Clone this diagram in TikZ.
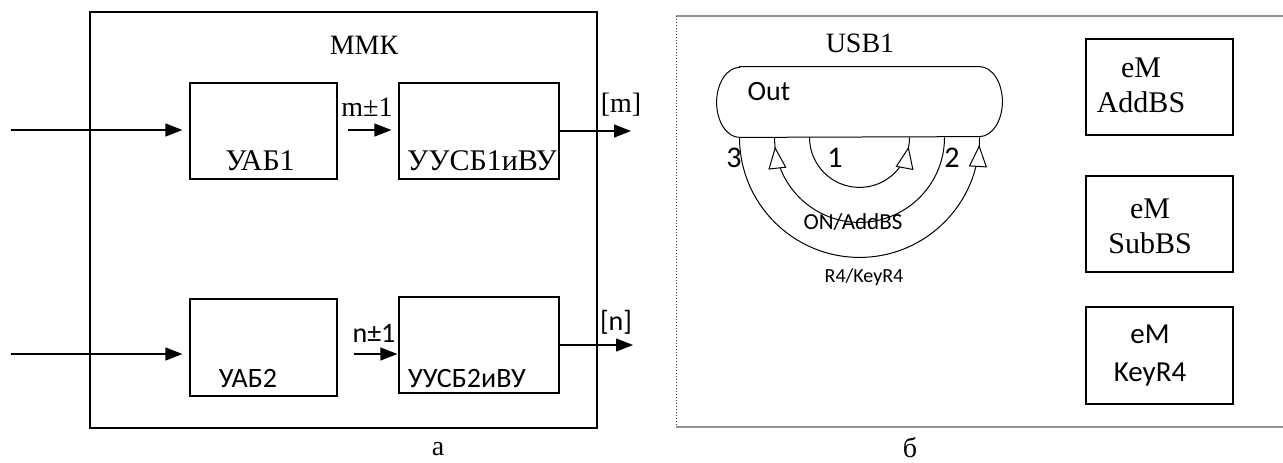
\documentclass[tikz,border=0pt]{standalone}
\usepackage{fontspec}
\setmainfont{Liberation Serif}
\newfontfamily\carl{Carlito}
\usetikzlibrary{arrows.meta,decorations.markings}
\begin{document}
\begin{tikzpicture}[x=0.5pt,y=-0.5pt,
  lw/.style={line width=0.6pt},
  blk/.style={draw, lw, inner sep=0, minimum width=#1},
  ser/.style={font=\fontsize{14}{17}\selectfont, inner sep=0},
  san/.style={font=\carl\fontsize{14}{17}\selectfont, inner sep=0},
  big/.style={font=\fontsize{15}{17}\selectfont},
  arr/.style={lw, -{Triangle[length=8.5pt,width=6.5pt]}},
  arcline/.style={line width=0.5pt, postaction={decorate},
    decoration={markings, mark=at position #1 with {\arrow[line width=0.5pt]{Triangle[open,fill=white,length=11pt,width=9pt]}}}}
]
\useasboundingbox (0,0) rectangle (1283,462);

% ---------- left panel ----------
\node[blk=253.5pt, minimum height=208pt] (mmk) at (343.5,220) {};
\node[ser] (mmkt) at (364,45) {ММК};

\node[blk=73.5pt, minimum height=48pt] (uab1) at (263.5,131) {};
\node[blk=80pt, minimum height=48pt] (uusb1) at (479,131) {};
\node[blk=73.5pt, minimum height=48.5pt] (uab2) at (263.5,347.5) {};
\node[blk=80pt, minimum height=48pt] (uusb2) at (479,345) {};

\node[ser, big] at (260,161) {УАБ1};
\node[ser, big] at (482,161) {УУСБ1иВУ};
\node[san] at (248,378) {УАБ2};
\node[san] at (467,378) {УУСБ2иВУ};

\coordinate (in1) at (10.5,130);
\coordinate (in2) at (10.5,354);
\coordinate (o1) at (631,131);
\coordinate (o2) at (633,345);

\draw[arr, shorten >=3.5pt] (in1) -- (in1 -| uab1.west);
\draw[arr, shorten >=3.5pt] (in2) -- (in2 -| uab2.west);
\draw[arr, shorten <=5pt, shorten >=3.5pt] (uab1.east |- in1) -- (uusb1.west |- in1);
\draw[arr, shorten <=8pt, shorten >=0.5pt] (uab2.east |- in2) -- (uusb2.west |- in2);
\draw[arr] (uusb1.east) -- (o1);
\draw[arr] (uusb2.east) -- (o2);

\node[ser] at (367,107) {m±1};
\node[san] at (374,333) {n±1};
\node[ser] at (621,105) {[m]};
\node[san] at (616,322) {[n]};
\node[ser] at (438,449) {а};

% ---------- right panel ----------
\draw[draw=gray!85, line width=0.8pt] (1290,16) -- (676,16);
\draw[draw=gray!85, line width=0.8pt] (676,427) -- (1290,427);
\draw[black!75, line width=0.5pt, densely dotted] (676,16) -- (676,427);

\node[ser] at (860,43) {USB1};

\node[inner sep=0, minimum width=142.5pt, minimum height=35pt] (out) at (859.5,102) {};
\draw[line width=0.5pt] ([xshift=11.5pt]out.north west) -- ([xshift=-11.5pt]out.north east)
  arc[start angle=-90, end angle=90, x radius=23, y radius=35]
  -- ([xshift=11.5pt]out.south west)
  arc[start angle=90, end angle=270, x radius=23, y radius=35] -- cycle;
\node[san] at (769,92) {Out};

\draw[arcline=0.94] ([xshift=-25pt]out.south) arc[start angle=180, end angle=0, radius=50];
\draw[arcline=0.965] ([xshift=42.5pt]out.south) arc[start angle=0, end angle=180, radius=85];
\draw[arcline=0.98] ([xshift=-60pt]out.south) arc[start angle=180, end angle=0, radius=120];

\node[san, font=\carl\fontsize{15}{17}\selectfont] at (835,158) {1};
\node[san, font=\carl\fontsize{15}{17}\selectfont] at (952,158) {2};
\node[san, font=\carl\fontsize{15}{17}\selectfont] at (734,158) {3};
\node[san, font=\carl\fontsize{11.5}{13}\selectfont] at (853,222) {ON/AddBS};
\node[san, font=\carl\fontsize{10}{12}\selectfont] at (864,277) {R4/KeyR4};

\node[blk=73.5pt, minimum height=48pt] (em1) at (1159.5,87) {};
\node[blk=73.5pt, minimum height=48pt] (em2) at (1159.5,224) {};
\node[blk=73.5pt, minimum height=48.5pt] (em3) at (1159.5,355.5) {};

\node[ser, align=center, font=\fontsize{15}{17.5}\selectfont] at (1141,85) {eM\\AddBS};
\node[ser, align=center, font=\fontsize{15}{17.5}\selectfont] at (1150,226) {eM\\SubBS};
\node[san, align=center, font=\carl\fontsize{14.5}{19}\selectfont] at (1150,356) {eM\\KeyR4};

\node[ser] at (910,448) {б};
\end{tikzpicture}
\end{document}
